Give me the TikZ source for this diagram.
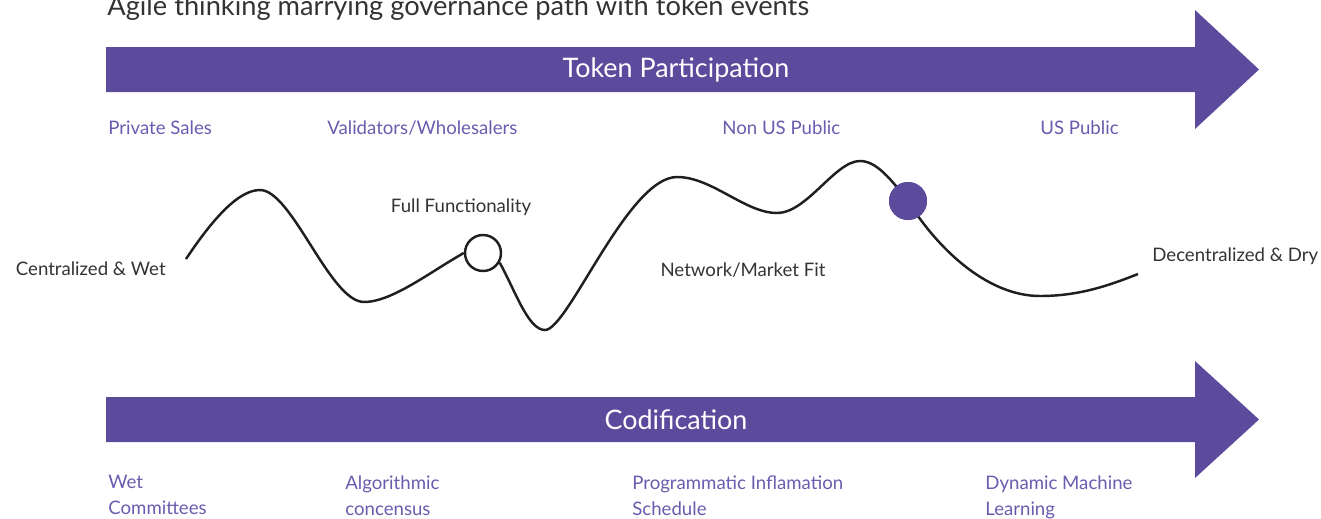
\documentclass[tikz,border=0pt]{standalone}
\usepackage{fontspec}
\setmainfont{Lato}
\definecolor{barpurple}{HTML}{5C4A9C}
\definecolor{lblpurple}{HTML}{6B5BAE}
\definecolor{darktext}{HTML}{333333}
\begin{document}
\begin{tikzpicture}[x=0.02cm,y=-0.02cm,
  bigarrow/.style={fill=barpurple,draw=none},
  toplabel/.style={anchor=west,text=lblpurple,font=\fontsize{10.6pt}{12pt}\selectfont,inner sep=0pt},
  botlabel/.style={anchor=north west,text=lblpurple,font=\fontsize{10.6pt}{14.8pt}\selectfont,inner sep=0pt,align=left},
  curvelabel/.style={text=darktext,font=\fontsize{10.6pt}{12pt}\selectfont,inner sep=0pt},
  barlabel/.style={text=white,font=\fontsize{15.3pt}{17pt}\selectfont,inner sep=0pt},
  wave/.style={draw=black!88,line width=1.4pt},
  ]
\useasboundingbox (0,0) rectangle (1321,518);
\clip (0,0) rectangle (1321,518);
% title
\node[anchor=base west,inner sep=0pt,text=darktext,font=\fontsize{15.5pt}{17pt}\selectfont] (title) at (107,15) {Agile thinking marrying governance path with token events};
% top arrow
\fill[bigarrow] (106,47) -- (1195,47) -- (1195,10) -- (1259,69.5) -- (1195,129) -- (1195,92) -- (106,92) -- cycle;
\node[barlabel] (tokp) at (676,69.5) {Token Participation};
% bottom arrow
\fill[bigarrow] (106,397) -- (1195,397) -- (1195,361) -- (1259,419.5) -- (1195,478) -- (1195,442) -- (106,442) -- cycle;
\node[barlabel] (codif) at (676,419.5) {Codification};
% top labels
\node[toplabel] (ps) at (108,128) {Private Sales};
\node[toplabel] (vw) at (327,128) {Validators/Wholesalers};
\node[toplabel] (nus) at (722,128) {Non US Public};
\node[toplabel] (usp) at (1040,128) {US Public};
% bottom labels
\node[botlabel] (wc) at (108,475) {Wet\\Committees};
\node[botlabel] (ac) at (345,475) {Algorithmic\\concensus};
\node[botlabel] (pis) at (632,475) {Programmatic Inflamation\\Schedule};
\node[botlabel] (dml) at (985,475) {Dynamic Machine\\Learning};
% curve labels
\node[curvelabel,anchor=east] (cw) at (166,269) {Centralized \& Wet};
\node[curvelabel] (ff) at (461,207) {Full Functionality};
\node[curvelabel] (nmf) at (743,270) {Network/Market Fit};
\node[curvelabel,anchor=west] (dd) at (1152,256) {Decentralized \& Dry};
% milestones
\node[circle,draw=black!88,line width=1.4pt,fill=white,minimum size=0.72cm,inner sep=0pt] (m1) at (483,253) {};
\node[circle,fill=barpurple,minimum size=0.76cm,inner sep=0pt] (m2) at (908,201) {};
\coordinate (s) at (186,259);
\coordinate (e) at (1138,274);
% wave
\draw[wave] (s) .. controls (212,220) and (238,190) .. (260,190)
  .. controls (292,190) and (330,302) .. (364,302)
  .. controls (392,302) and (430,272) .. (m1.west);
\draw[wave] (m1.-30) .. controls (515,290) and (528,330) .. (545,330)
  .. controls (568,330) and (628,177) .. (677,177)
  .. controls (712,177) and (745,213) .. (777,213)
  .. controls (807,213) and (835,161) .. (860,161)
  .. controls (876,161) and (890,178) .. (m2.center)
  .. controls (935,245) and (985,296) .. (1040,296)
  .. controls (1080,296) and (1110,285) .. (e);
\node[circle,fill=barpurple,minimum size=0.76cm,inner sep=0pt] at (m2) {};
\end{tikzpicture}
\end{document}
